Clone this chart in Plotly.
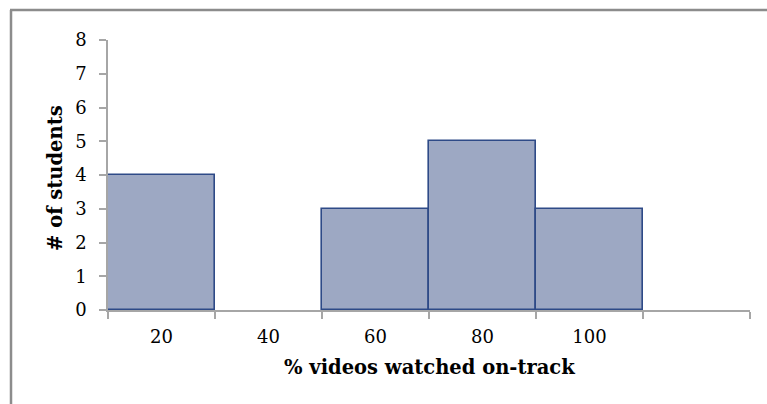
import plotly.graph_objects as go

categories = ["20", "40", "60", "80", "100", " "]
students = [4, 0, 3, 5, 3, None]
y_ticks = [0, 1, 2, 3, 4, 5, 6, 7, 8]
x_title = "% videos watched on-track"
y_title = "# of students"

W, H = 767, 404
L, R, T, B = 108, 17, 40, 94
pw, ph = W - L - R, H - T - B

def px_x(p):
    return (p - L) / pw

def px_y(p):
    return (H - B - p) / ph

font_family = "DejaVu Serif"

# zero-count bins are not drawn (no outline along the axis)
bar_heights = [v if v else None for v in students]

fig = go.Figure()
fig.add_trace(go.Bar(
    x=categories,
    y=bar_heights,
    width=1.0,
    marker=dict(color="#9DA8C3", line=dict(color="#2E4A87", width=1.6)),
    hoverinfo="x+y",
))

fig.update_layout(
    width=W, height=H,
    margin=dict(l=L, r=R, t=T, b=B),
    paper_bgcolor="white",
    plot_bgcolor="white",
    showlegend=False,
    bargap=0,
    font=dict(family=font_family, color="black"),
    xaxis=dict(
        type="category",
        categoryorder="array",
        categoryarray=categories,
        range=[-0.5, 5.5],
        tickson="boundaries",
        ticks="outside",
        ticklen=7,
        tickcolor="#A6A6A6",
        tickwidth=1.5,
        showline=True,
        linecolor="#A6A6A6",
        linewidth=1.5,
        showgrid=False,
        zeroline=False,
        tickfont=dict(size=18, family=font_family),
        ticklabelstandoff=10,
    ),
    yaxis=dict(
        range=[0, 8],
        tickvals=y_ticks,
        ticks="outside",
        ticklen=7,
        tickcolor="#A6A6A6",
        tickwidth=1.5,
        showline=True,
        linecolor="#A6A6A6",
        linewidth=1.5,
        showgrid=False,
        zeroline=False,
        tickfont=dict(size=18, family=font_family),
        ticklabelstandoff=9,
    ),
    annotations=[
        dict(text="<b>" + x_title + "</b>", xref="paper", yref="paper",
             x=0.5, y=px_y(367), xanchor="center", yanchor="middle",
             showarrow=False, font=dict(size=19.5, family=font_family)),
        dict(text="<b>" + y_title + "</b>", xref="paper", yref="paper",
             x=px_x(55), y=px_y(178), xanchor="center", yanchor="middle",
             textangle=-90, showarrow=False,
             font=dict(size=19.5, family=font_family)),
    ],
)

# outer chart border (top and left edges visible in crop)
fig.add_shape(type="line", xref="paper", yref="paper",
              x0=px_x(10), x1=px_x(W + 5), y0=px_y(10), y1=px_y(10),
              line=dict(color="#8C8C8C", width=2.5))
fig.add_shape(type="line", xref="paper", yref="paper",
              x0=px_x(11), x1=px_x(11), y0=px_y(10), y1=px_y(H + 5),
              line=dict(color="#8C8C8C", width=2.5))

fig.write_html("out.html",
               config={"displayModeBar": False},
               post_script="document.body.style.margin='0px';"
                           "document.body.style.overflow='hidden';")
